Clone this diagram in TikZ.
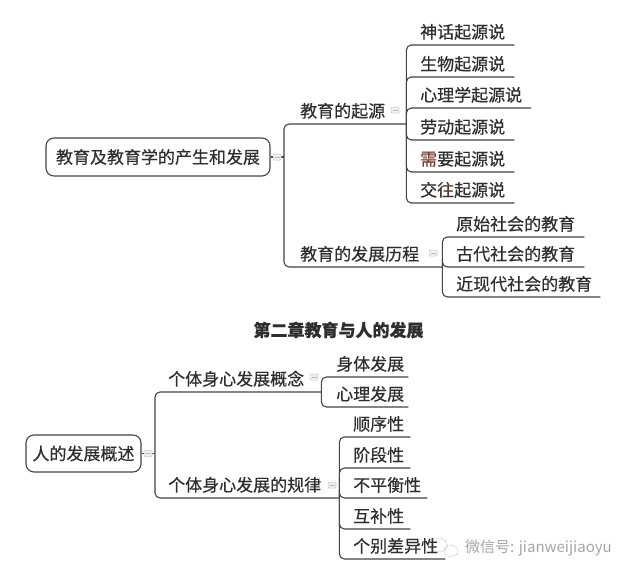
\documentclass[tikz,border=0pt]{standalone}
\usepackage{fontspec}
\newfontfamily\cjk[FakeBold=0.35]{Noto Sans CJK SC}
\newfontfamily\cjkthin{Noto Sans CJK SC}
\definecolor{txt}{HTML}{2E2E2E}
\definecolor{ln}{HTML}{454545}
\definecolor{rd}{HTML}{7A3E32}
\begin{document}
\begin{tikzpicture}[x=1pt,y=-1pt,
  every node/.style={font=\cjk\fontsize{17}{20}\selectfont, text=txt},
  rootbox/.style n args={2}{draw=ln, line width=1.1pt, rounded corners=8pt, fill=white,
     inner sep=0pt, minimum width=#1pt, minimum height=#2pt},
  topic/.style n args={2}{anchor=south west, inner xsep=0pt, inner ysep=5pt,
     text width=#1pt, align=left, execute at begin node={\hspace*{#2pt}}},
  conn/.style={draw=ln, line width=1.1pt, rounded corners=5pt},
  icon/.style={draw=gray!45, fill=gray!12, line width=0.5pt, rounded corners=1pt,
     minimum width=8pt, minimum height=6pt, inner sep=0pt,
     path picture={\draw[gray!55, line width=0.6pt]
       ([xshift=1.5pt]path picture bounding box.west) -- ([xshift=-1.5pt]path picture bounding box.east);}}]
\useasboundingbox (0,0) rectangle (640,579);
\fill[white] (0,0) rectangle (640,579);

% ---------- top map ----------
\node[rootbox={224}{38}] (root1) at (158,157) {教育及教育学的产生和发展};
\coordinate (j1) at (284,157);
\node[topic={122}{16}] (c1) at (284,124) {教育的起源};
\node[topic={158}{16}] (c2) at (284,267) {教育的发展历程};

\node[topic={108}{14}] (g1) at (406,45)  {神话起源说};
\node[topic={108}{14}] (g2) at (406,77)  {生物起源说};
\node[topic={125}{14}] (g3) at (406,108) {心理学起源说};
\node[topic={108}{14}] (g4) at (406,140) {劳动起源说};
\node[topic={108}{14}] (g5) at (406,172) {{\color{rd}需}要起源说};
\node[topic={108}{14}] (g6) at (406,203) {交{\color{rd!45!txt}往}起源说};

\node[topic={142}{14}] (h1) at (442,237) {原始社会的教育};
\node[topic={142}{14}] (h2) at (442,267) {古代社会的教育};
\node[topic={158}{14}] (h3) at (442,297) {近现代社会的教育};

\draw[conn] (root1.east) -- (j1);
\draw[conn] (j1) |- (c1.south east);
\draw[conn] (j1) |- (c2.south east);
\foreach \g in {g1,g2,g3,g4,g5,g6} \draw[conn] (c1.south east) |- (\g.south east);
\foreach \h in {h1,h2,h3} \draw[conn] (c2.south east) |- (\h.south east);

\node[icon] (i1) at (277,157) {};
\node[icon] (i2) at (395,110) {};
\node[icon] (i3) at (433,253) {};

% ---------- title ----------
\node[font=\cjk\bfseries\fontsize{17}{20}\selectfont] (title) at (338.5,330) {第二章教育与人的发展};

% ---------- bottom map ----------
\node[rootbox={115}{37}] (root2) at (83.5,453.5) {人的发展概述};
\coordinate (j2) at (155,453.5);
\node[topic={166}{13}] (d1) at (155,392) {个体身心发展概念};
\node[topic={184}{13}] (d2) at (155,498) {个体身心发展的规律};

\node[topic={87}{15}] (e1) at (321,377) {身体发展};
\node[topic={87}{15}] (e2) at (321,407) {心理发展};

\node[topic={71}{14}]  (f1) at (339,437) {顺序性};
\node[topic={71}{14}]  (f2) at (339,468) {阶段性};
\node[topic={88}{14}]  (f3) at (339,498) {不平衡性};
\node[topic={71}{14}]  (f4) at (339,529) {互补性};
\node[topic={106}{14}] (f5) at (339,559) {个别差异性};

\draw[conn] (root2.east) -- (j2);
\draw[conn] (j2) |- (d1.south east);
\draw[conn] (j2) |- (d2.south east);
\foreach \e in {e1,e2} \draw[conn] (d1.south east) |- (\e.south east);
\foreach \f in {f1,f2,f3,f4,f5} \draw[conn] (d2.south east) |- (\f.south east);

\node[icon] (i4) at (148,453.5) {};
\node[icon] (i5) at (314,377) {};
\node[icon] (i6) at (332,485) {};

% ---------- watermark ----------
\draw[gray!55, densely dotted, line width=0.7pt] (438,545) ellipse (9 and 7);
\draw[gray!55, densely dotted, line width=0.7pt] (451,551) ellipse (7 and 5.5);
\node[anchor=west, font=\cjkthin\fontsize{15}{18}\selectfont, text=gray!70, inner sep=0pt] (wm) at (465,548) {微信号: jianweijiaoyu};
\end{tikzpicture}
\end{document}
